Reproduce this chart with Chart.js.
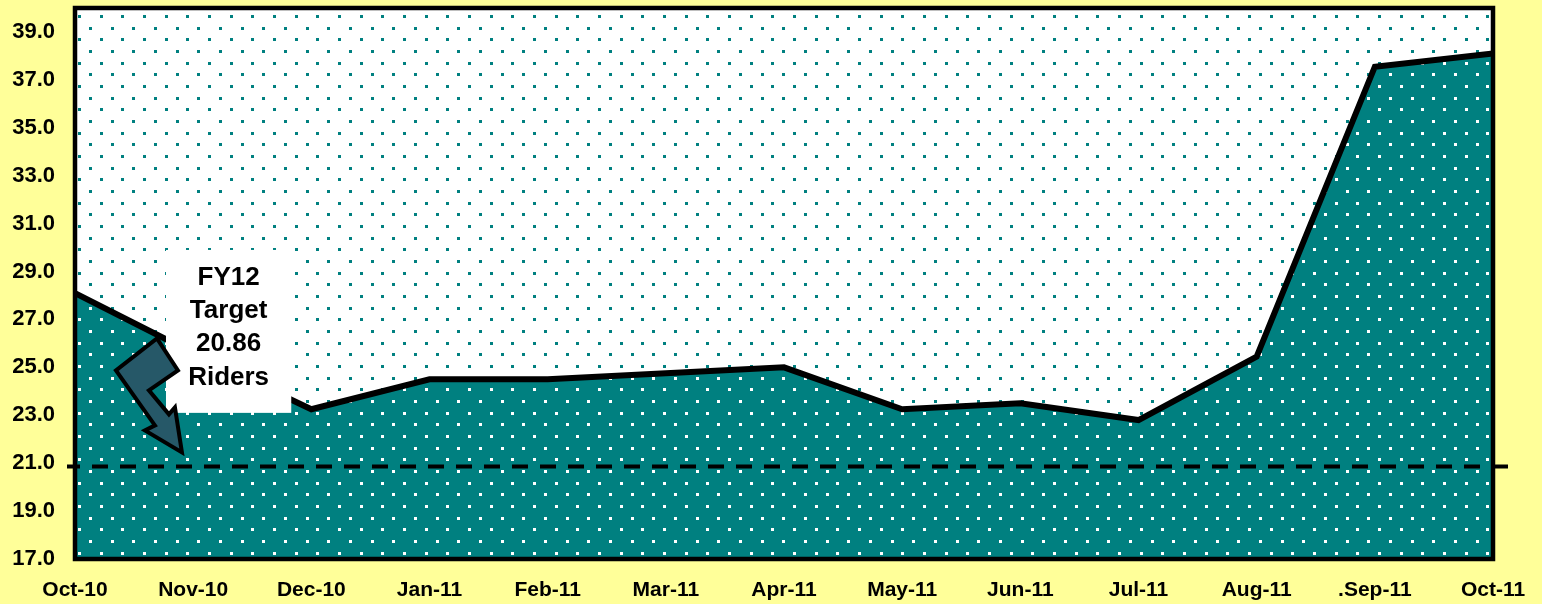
<!DOCTYPE html>
<html>
<head>
<meta charset="utf-8">
<script src="https://cdn.jsdelivr.net/npm/chart.js@4.4.1/dist/chart.umd.min.js"></script>
<style>
html,body{margin:0;padding:0;background:#ffff99;overflow:hidden;}
#wrap{width:1542px;height:604px;position:relative;}
canvas{display:block;}
</style>
</head>
<body>
<div id="wrap"><canvas id="c" width="1542" height="604"></canvas></div>
<script>
// ---- data ----
const months = ['Oct-10','Nov-10','Dec-10','Jan-11','Feb-11','Mar-11','Apr-11','May-11','Jun-11','Jul-11','Aug-11','.Sep-11','Oct-11'];
const riders = [28.1, 25.6, 23.25, 24.5, 24.5, 24.75, 25.0, 23.25, 23.5, 22.8, 25.45, 37.55, 38.1];
const yTicks = [17, 19, 21, 23, 25, 27, 29, 31, 33, 35, 37, 39];
const target = 20.86;
const targetText = ['FY12', 'Target', '20.86', 'Riders'];

// ---- styling ----
const TEAL = '#008080';
const FONT = 'Liberation Sans, Arial, Helvetica, sans-serif';
const canvas = document.getElementById('c');
const ctx0 = canvas.getContext('2d');

function dotPattern(bg, dot) {
  const c = document.createElement('canvas');
  const cw = 65, ch = 70;
  c.width = cw; c.height = ch;
  const g = c.getContext('2d');
  g.fillStyle = bg; g.fillRect(0, 0, cw, ch);
  g.fillStyle = dot;
  for (let r = 0; r < 6; r++) {
    for (let k = 0; k < 3; k++) {
      const x = Math.round(k * 21.667 + (r % 2) * 10.833);
      const y = Math.round(r * 11.667);
      g.fillRect(x, y, 3, 3);
    }
  }
  const p = ctx0.createPattern(c, 'repeat');
  if (p.setTransform) p.setTransform(new DOMMatrix().translate(13, 15));
  return p;
}
const plotPattern = dotPattern('#ffffff', TEAL);
const areaPattern = dotPattern(TEAL, '#ffffff');

const plotBg = {
  id: 'plotBg',
  beforeDatasetsDraw(chart) {
    const { ctx, chartArea: a } = chart;
    ctx.save();
    ctx.fillStyle = plotPattern;
    ctx.fillRect(a.left, a.top, a.right - a.left, a.bottom - a.top);
    ctx.restore();
  }
};

const overlay = {
  id: 'overlay',
  afterDatasetsDraw(chart) {
    const { ctx, chartArea: a, scales: { x, y } } = chart;
    ctx.save();
    // annotation box
    const bl = x.getPixelForValue(0.77), br = x.getPixelForValue(1.83);
    const bt = y.getPixelForValue(29.9), bb = y.getPixelForValue(23.1);
    ctx.fillStyle = '#ffffff';
    ctx.fillRect(bl, bt, br - bl, bb - bt);
    ctx.fillStyle = '#000';
    ctx.font = 'bold 26px ' + FONT;
    ctx.textAlign = 'center';
    ctx.textBaseline = 'middle';
    const cx = (bl + br) / 2, cy = (bt + bb) / 2 - 4, lh = 33.3;
    targetText.forEach((t, i) => {
      ctx.fillText(t, cx, cy + (i - (targetText.length - 1) / 2) * lh);
    });
    // arrow
    const tx = x.getPixelForValue(0.905), ty = y.getPixelForValue(21.45);
    const pts = [[-25,-114],[-4,-82],[-33,-62],[-13,-38],[-7,-45],[0,0],[-37,-22],[-27,-27],[-66,-82]];
    ctx.beginPath();
    pts.forEach((p, i) => { if (i === 0) ctx.moveTo(tx + p[0], ty + p[1]); else ctx.lineTo(tx + p[0], ty + p[1]); });
    ctx.closePath();
    ctx.fillStyle = '#265868';
    ctx.fill();
    ctx.lineWidth = 4;
    ctx.lineJoin = 'miter';
    ctx.strokeStyle = '#000';
    ctx.stroke();
    // target dashed line
    const yt = y.getPixelForValue(target);
    ctx.beginPath();
    ctx.setLineDash([16, 12]);
    ctx.lineDashOffset = 3;
    ctx.moveTo(a.left - 8, yt);
    ctx.lineTo(a.right + 15, yt);
    ctx.lineWidth = 4;
    ctx.lineCap = 'butt';
    ctx.strokeStyle = '#000';
    ctx.stroke();
    ctx.setLineDash([]);
    // plot border
    ctx.lineWidth = 4.5;
    ctx.strokeStyle = '#000';
    ctx.strokeRect(a.left, a.top, a.right - a.left, a.bottom - a.top);
    ctx.restore();
  }
};

new Chart(canvas, {
  type: 'line',
  data: {
    labels: months,
    datasets: [{
      data: riders,
      borderColor: '#000',
      borderWidth: 6,
      borderJoinStyle: 'miter',
      pointRadius: 0,
      tension: 0,
      fill: 'start',
      backgroundColor: areaPattern
    }]
  },
  options: {
    responsive: false,
    animation: false,
    devicePixelRatio: 1,
    layout: { padding: { top: 8, right: 49, left: 0, bottom: 0 } },
    plugins: { legend: { display: false }, tooltip: { enabled: false } },
    scales: {
      x: {
        type: 'category',
        offset: false,
        grid: { display: false, drawTicks: false, tickLength: 0 },
        border: { display: false },
        ticks: { color: '#000', font: { family: FONT, size: 21, weight: 'bold' }, padding: 19, maxRotation: 0, autoSkip: false },
        afterFit(s) { s.height = 45; s.paddingLeft = 0; s.paddingRight = 0; }
      },
      y: {
        min: 17,
        max: 40,
        grid: { display: false, drawTicks: false, tickLength: 0 },
        border: { display: false },
        afterBuildTicks(s) { s.ticks = yTicks.map(v => ({ value: v })); },
        ticks: { color: '#000', font: { family: FONT, size: 22, weight: 'bold' }, padding: 20,
                 callback: v => Number(v).toFixed(1) },
        afterFit(s) { s.width = 75; s.paddingTop = 0; s.paddingBottom = 0; }
      }
    }
  },
  plugins: [plotBg, overlay]
});
</script>
</body>
</html>
